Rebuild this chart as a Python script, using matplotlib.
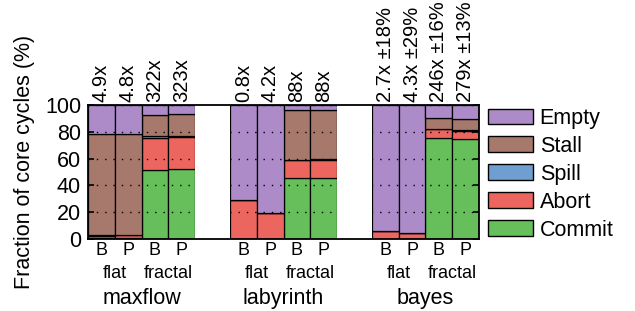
import matplotlib
matplotlib.use('Agg')
import matplotlib.pyplot as plt
from matplotlib.patches import Patch
import numpy as np

plt.rcParams['font.family'] = ['Liberation Sans', 'DejaVu Sans']

benchmarks = ['maxflow', 'labyrinth', 'bayes']
schemes = ['flat', 'fractal']
variants = ['B', 'P', 'B', 'P']

# one value per bar, grouped by benchmark (flat B, flat P, fractal B, fractal P)
commit = [0.8, 0.8, 51.5, 52.0,   0.0, 0.0, 45.3, 45.3,   0.0, 0.0, 75.1, 74.4]
abort  = [1.7, 2.2, 24.1, 24.1,   28.9, 19.2, 13.7, 13.9,  5.7, 4.2, 6.7, 6.0]
spill  = [0.3, 0.3, 0.9, 0.9,     0.0, 0.0, 0.3, 0.3,     0.0, 0.0, 0.3, 0.6]
stall  = [75.4, 74.9, 16.3, 16.0, 0.0, 0.0, 37.2, 37.0,   0.0, 0.0, 7.9, 8.6]
empty  = [21.8, 21.8, 7.2, 7.0,   71.1, 80.8, 3.5, 3.5,   94.3, 95.8, 10.0, 10.4]

speedups = ['4.9x', '4.8x', '322x', '323x',
            '0.8x', '4.2x', '88x', '88x',
            '2.7x \u00b118%', '4.3x \u00b129%', '246x \u00b116%', '279x \u00b113%']

series = [('Commit', commit, '#66bf5b'),
          ('Abort', abort, '#ec665f'),
          ('Spill', spill, '#6f9fd1'),
          ('Stall', stall, '#a7786c'),
          ('Empty', empty, '#ac8bc8')]

gap = 1.3
x = np.array([g * (4 + gap) + i for g in range(3) for i in range(4)], dtype=float)

fig = plt.figure(figsize=(6.35, 3.11), dpi=100)
ax = fig.add_axes([88 / 635, 1 - 239 / 311, 391 / 635, 134 / 311])

bottom = np.zeros(len(x))
for name, vals, col in series:
    vals = np.array(vals)
    ax.bar(x, vals, width=1.0, bottom=bottom, color=col, edgecolor='black',
           linewidth=0.9, zorder=2)
    bottom += vals

ax.set_axisbelow(False)
ax.yaxis.grid(True, color='black', linestyle=(0, (1, 5)), linewidth=1.0)

# white filler between benchmark groups
gx = [(4 + gap) * g - 0.5 - gap / 2 for g in (1, 2)]
ax.bar(gx, [100, 100], width=gap, color='white', linewidth=0, zorder=2.6)

ax.set_xlim(-0.5, x[-1] + 0.5)
ax.set_ylim(0, 100)
ax.set_yticks([0, 20, 40, 60, 80, 100])
ax.tick_params(axis='y', direction='in', right=True, length=4, width=1.2,
               labelsize=15.5, pad=5)
ax.set_xticks(x)
ax.set_xticklabels(variants * 3, fontsize=13)
ax.tick_params(axis='x', length=0, pad=2)
for s in ax.spines.values():
    s.set_linewidth(1.3)
    s.set_zorder(4)

for xi, lab in zip(x, speedups):
    ax.annotate(lab, (xi, 100), xytext=(0, 2), textcoords='offset points',
                rotation=90, ha='center', va='bottom', fontsize=14.5)

for g in range(3):
    base = g * (4 + gap)
    for k, sch in enumerate(schemes):
        ax.annotate(sch, (base + 2 * k + 0.5, 0), xycoords=('data', 'axes fraction'),
                    xytext=(0, -25), textcoords='offset points',
                    ha='center', va='center', fontsize=13)
    ax.annotate(benchmarks[g], (base + 1.5, 0), xycoords=('data', 'axes fraction'),
                xytext=(0, -43), textcoords='offset points',
                ha='center', va='center', fontsize=15.5)

fig.text(25 / 635, 1 - 162 / 311, 'Fraction of core cycles (%)', rotation=90,
         ha='center', va='center', fontsize=15.5)

handles = [Patch(facecolor=col, edgecolor='black', linewidth=1.0, label=name)
           for name, vals, col in series[::-1]]
fig.legend(handles=handles, loc='upper left', bbox_to_anchor=(488 / 635, 1 - 108 / 311),
           frameon=False, fontsize=15.5, handlelength=2.1, handleheight=0.75,
           handletextpad=0.3, labelspacing=0.32, borderpad=0, borderaxespad=0)

fig.savefig('out.png', dpi=100)
